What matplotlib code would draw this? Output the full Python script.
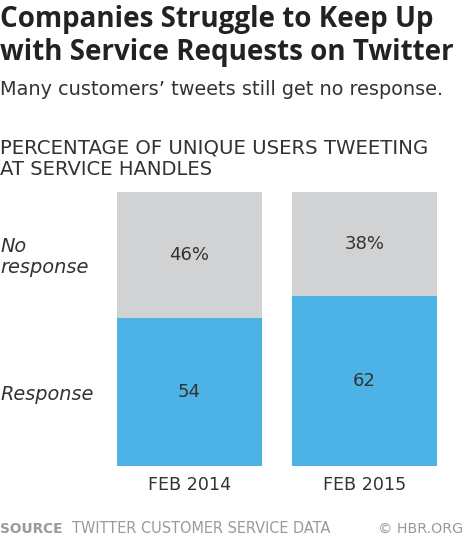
import matplotlib
matplotlib.use("Agg")
import matplotlib.pyplot as plt

# data
periods = ["FEB 2014", "FEB 2015"]
response = [54, 62]
no_response = [46, 38]
response_labels = ["54", "62"]
no_response_labels = ["46%", "38%"]

BLUE = "#4db3e6"
GRAY = "#d1d2d4"
TEXT = "#333333"
FOOT = "#9a9a9a"

plt.rcParams["font.family"] = ["DejaVu Sans"]

fig = plt.figure(figsize=(4.65, 5.4), dpi=100)
W, H = 465, 540
fig.canvas.draw()
renderer = fig.canvas.get_renderer()


def fy(py):
    return 1 - py / H


def fit(txt, target_px):
    # scale the font so the text is as wide as in the reference
    w = txt.get_window_extent(renderer).width
    txt.set_fontsize(txt.get_fontsize() * target_px / w)
    return txt


width = 0.828
ax = fig.add_axes([117 / W, fy(466), 320 / W, (466 - 192) / H])
x = list(range(len(periods)))
ax.bar(x, response, width=width, color=BLUE)
ax.bar(x, no_response, width=width, bottom=response, color=GRAY)
ax.set_xlim(-width / 2, len(periods) - 1 + width / 2)
ax.set_ylim(0, 100)
ax.axis("off")

for i in x:
    ax.text(i, response[i] / 2, response_labels[i], ha="center", va="center",
            fontsize=13, color=TEXT)
    ax.text(i, response[i] + no_response[i] / 2, no_response_labels[i],
            ha="center", va="center", fontsize=13, color=TEXT)
    t = fig.text((117 + 72.5 + i * 175) / W, fy(490), periods[i], ha="center",
                 va="baseline", fontsize=12, color=TEXT)
    fit(t, 83)

# series labels on the left
fit(fig.text(0, fy(252), "No", ha="left", va="baseline", fontsize=12,
             style="italic", color=TEXT), 26)
fit(fig.text(0, fy(273), "response", ha="left", va="baseline", fontsize=12,
             style="italic", color=TEXT), 88)
fit(fig.text(0, fy(400), "Response", ha="left", va="baseline", fontsize=12,
             style="italic", color=TEXT), 93)

# header
title_font = ["Open Sans", "DejaVu Sans"]
fit(fig.text(0, fy(27), "Companies Struggle to Keep Up", ha="left", va="baseline",
             fontsize=16, fontweight="bold", color="#222222",
             family=title_font), 435)
fit(fig.text(0, fy(60), "with Service Requests on Twitter", ha="left",
             va="baseline", fontsize=16, fontweight="bold", color="#222222",
             family=title_font), 455)
fit(fig.text(0, fy(95), "Many customers\u2019 tweets still get no response.",
             ha="left", va="baseline", fontsize=12, color=TEXT), 442)
fit(fig.text(0, fy(153), "PERCENTAGE OF UNIQUE USERS TWEETING", ha="left",
             va="baseline", fontsize=12, color=TEXT), 427)
fit(fig.text(0, fy(175), "AT SERVICE HANDLES", ha="left", va="baseline",
             fontsize=12, color=TEXT), 212)

# footer
fit(fig.text(0, fy(533), "SOURCE", ha="left", va="baseline", fontsize=10,
             fontweight="bold", color=FOOT), 63)
fit(fig.text(72 / W, fy(533), "TWITTER CUSTOMER SERVICE DATA", ha="left",
             va="baseline", fontsize=10, color=FOOT), 258)
fit(fig.text(463 / W, fy(533), "\u00a9 HBR.ORG", ha="right", va="baseline",
             fontsize=10, color=FOOT), 85)

fig.savefig("out.png", dpi=100)
